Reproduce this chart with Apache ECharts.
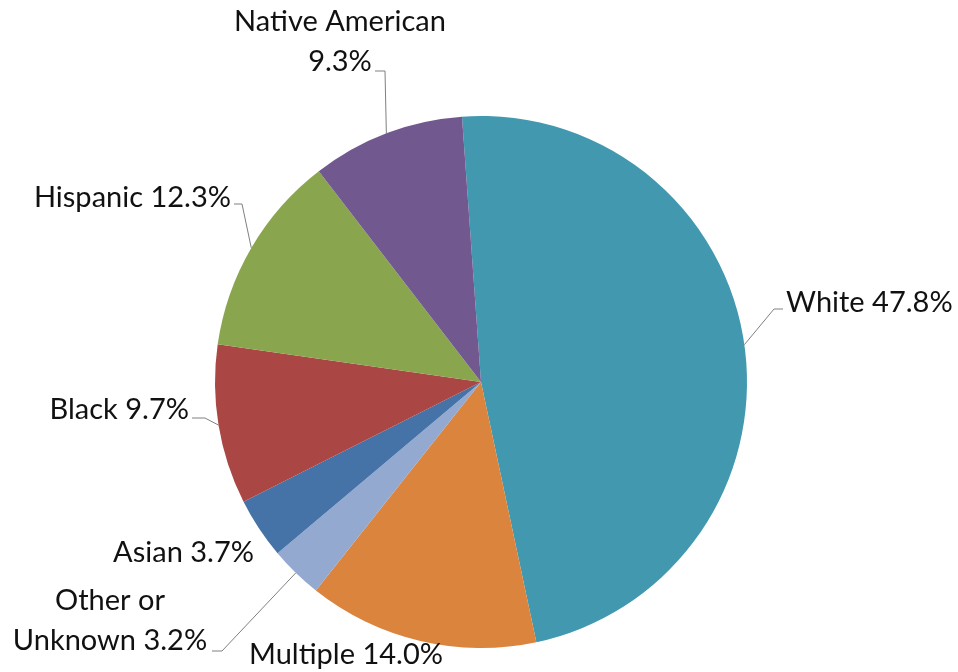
<!DOCTYPE html>
<html>
<head>
<meta charset="utf-8">
<script src="https://cdn.jsdelivr.net/npm/echarts@6/dist/echarts.min.js"></script>
<style>
html,body{margin:0;padding:0;background:#fff;}
#chart{width:958px;height:672px;}
</style>
</head>
<body>
<div id="chart"></div>
<script>
var categories = ['White', 'Multiple', 'Other or Unknown', 'Asian', 'Black', 'Hispanic', 'Native American'];
var values = [47.8, 14.0, 3.2, 3.7, 9.7, 12.3, 9.3];
var colors = ['#4198AF', '#DB843D', '#93A9CF', '#4572A7', '#AA4643', '#89A54E', '#71588F'];

// label anchor placement (style/layout only)
var labelPlace = [
  {x: 786, y: 303, align: 'left',   knee: [774, 309], end: [783, 309]},
  {x: 346, y: 655, align: 'center', line: false},
  {x: 110, y: 621, align: 'center', knee: [222, 651], end: [212, 651]},
  {x: 254, y: 553, align: 'right',  line: false},
  {x: 189, y: 410, align: 'right',  knee: [205, 418], end: [192, 418]},
  {x: 231, y: 198, align: 'right',  knee: [242, 204], end: [234, 204]},
  {x: 340, y: 42,  align: 'center', knee: [385, 71],  end: [375, 71]}
];

var chart = echarts.init(document.getElementById('chart'), null, {renderer: 'canvas'});

var data = categories.map(function (c, i) {
  var item = {name: c, value: values[i], itemStyle: {color: colors[i]}};
  if (labelPlace[i].line === false) item.labelLine = {show: false};
  return item;
});

function fmt(p) {
  var v = p.value.toFixed(1) + '%';
  if (p.name === 'Native American') return 'Native American\n' + v;
  if (p.name === 'Other or Unknown') return 'Other or\nUnknown ' + v;
  return p.name + ' ' + v;
}

chart.setOption({
  animation: false,
  backgroundColor: '#ffffff',
  series: [{
    type: 'pie',
    center: [481, 382],
    radius: 266,
    startAngle: 94.1,
    clockwise: true,
    avoidLabelOverlap: false,
    data: data,
    label: {
      show: true,
      position: 'outside',
      formatter: fmt,
      fontFamily: 'Lato',
      fontSize: 29,
      lineHeight: 40,
      color: '#111111'
    },
    labelLine: {
      show: true,
      length: 10,
      length2: 10,
      smooth: false,
      lineStyle: {color: '#808080', width: 1}
    },
    itemStyle: {borderWidth: 0},
    emphasis: {disabled: true},
    labelLayout: function (params) {
      var p = labelPlace[params.dataIndex];
      var out = {x: p.x, y: p.y, align: p.align, verticalAlign: 'middle'};
      if (p.line !== false && params.labelLinePoints) {
        var s = params.labelLinePoints[0];
        out.labelLinePoints = [[s[0], s[1]], p.knee, p.end];
      }
      return out;
    }
  }]
});
</script>
</body>
</html>
